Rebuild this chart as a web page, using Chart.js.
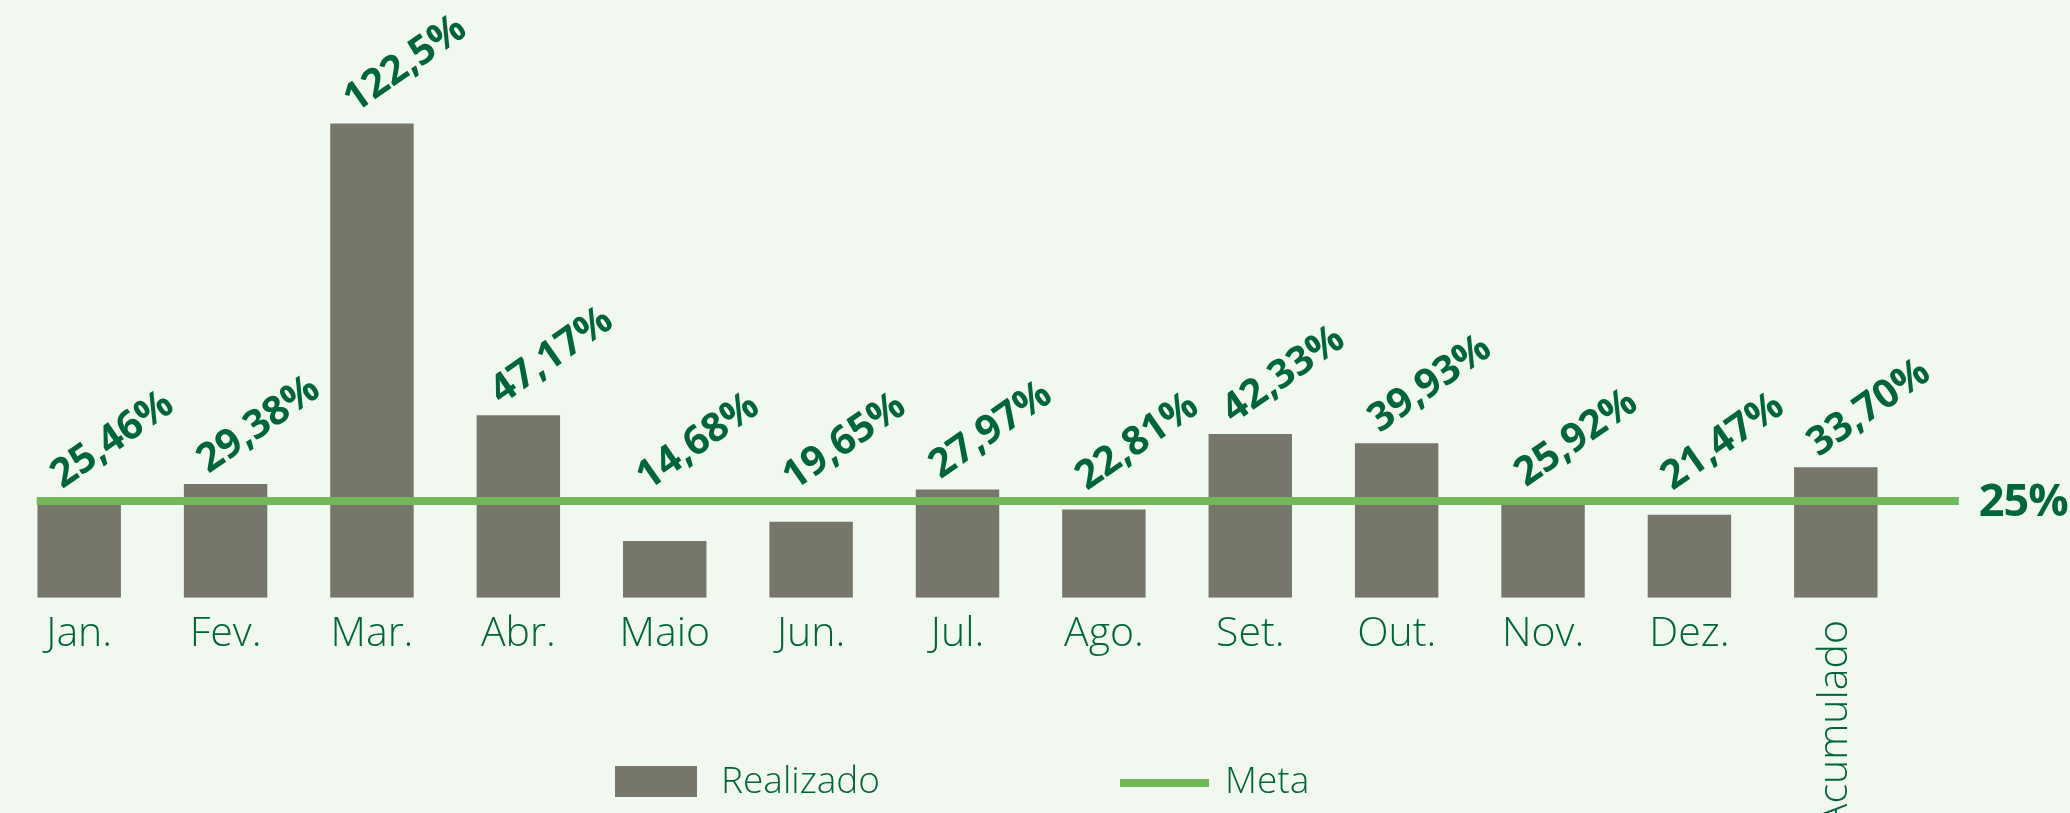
<!DOCTYPE html>
<html>
<head>
<meta charset="utf-8">
<script src="https://cdn.jsdelivr.net/npm/chart.js@4"></script>
<style>
  html, body { margin: 0; padding: 0; background: #f1f8f0; }
  #wrap { width: 2070px; height: 813px; }
</style>
</head>
<body>
<div id="wrap"><canvas id="metaChart"></canvas></div>
<script>
const categories = ["Jan.", "Fev.", "Mar.", "Abr.", "Maio", "Jun.", "Jul.", "Ago.", "Set.", "Out.", "Nov.", "Dez.", "Acumulado"];
const realizado = [25.46, 29.38, 122.5, 47.17, 14.68, 19.65, 27.97, 22.81, 42.33, 39.93, 25.92, 21.47, 33.70];
const valueLabels = ["25,46%", "29,38%", "122,5%", "47,17%", "14,68%", "19,65%", "27,97%", "22,81%", "42,33%", "39,93%", "25,92%", "21,47%", "33,70%"];
const meta = 25;
const metaLabel = "25%";
const legendLabels = ["Realizado", "Meta"];

const GREEN_TEXT = "#00663a";
const BAR = "#76776a";
const LINE = "#72b85a";
const FONT = '"Open Sans", "Noto Sans", sans-serif';

// meta line runs a bit past the first and last bars
const META_FROM = -0.29;
const META_TO = 12.84;

const annotations = {
    id: "annotations",
    afterDatasetsDraw(chart) {
        const ctx = chart.ctx;
        const x = chart.scales.x;
        const y = chart.scales.y;
        const x2 = chart.scales.x2;

        // value labels, rotated
        ctx.save();
        ctx.fillStyle = GREEN_TEXT;
        ctx.font = "700 40px " + FONT;
        ctx.textAlign = "left";
        ctx.textBaseline = "alphabetic";
        realizado.forEach((v, i) => {
            const px = x.getPixelForValue(i) - 17;
            const py = y.getPixelForValue(Math.max(v, meta)) - 10;
            ctx.save();
            ctx.translate(px, py);
            ctx.rotate(-35 * Math.PI / 180);
            ctx.fillText(valueLabels[i], 0, 0);
            ctx.restore();
        });

        // meta label at the end of the line
        ctx.font = "700 45px " + FONT;
        ctx.letterSpacing = "-1px";
        ctx.textBaseline = "middle";
        ctx.fillText(metaLabel, x2.getPixelForValue(META_TO) + 20, y.getPixelForValue(meta) + 2);
        ctx.letterSpacing = "0px";

        // last category written vertically
        ctx.font = "300 41px " + FONT;
        ctx.textAlign = "right";
        ctx.translate(x.getPixelForValue(12), 620);
        ctx.rotate(-Math.PI / 2);
        ctx.fillText(categories[12], 0, 0);
        ctx.restore();

        // legend
        ctx.save();
        ctx.fillStyle = BAR;
        ctx.fillRect(615, 766, 82, 31);
        ctx.strokeStyle = LINE;
        ctx.lineWidth = 8;
        ctx.beginPath();
        ctx.moveTo(1120, 783);
        ctx.lineTo(1209, 783);
        ctx.stroke();
        ctx.fillStyle = GREEN_TEXT;
        ctx.font = "300 37px " + FONT;
        ctx.textBaseline = "middle";
        ctx.textAlign = "left";
        ctx.fillText(legendLabels[0], 721, 782);
        ctx.fillText(legendLabels[1], 1225, 782);
        ctx.restore();
    }
};

new Chart(document.getElementById("metaChart"), {
    data: {
        labels: categories,
        datasets: [
            {
                type: "line",
                label: legendLabels[1],
                data: [{ x: META_FROM, y: meta }, { x: META_TO, y: meta }],
                xAxisID: "x2",
                borderColor: LINE,
                borderWidth: 8,
                pointRadius: 0,
                clip: false,
                order: 0,
            },
            {
                type: "bar",
                label: legendLabels[0],
                data: realizado,
                backgroundColor: BAR,
                barPercentage: 0.57,
                categoryPercentage: 1,
                grouped: false,
                order: 1,
            },
        ],
    },
    options: {
        responsive: true,
        maintainAspectRatio: false,
        animation: false,
        events: [],
        layout: {
            padding: { top: 17, left: 6, right: 161, bottom: 142 },
        },
        plugins: {
            legend: { display: false },
            tooltip: { enabled: false },
        },
        scales: {
            x: {
                type: "category",
                offset: true,
                grid: { display: false, drawTicks: false },
                border: { display: false },
                ticks: {
                    color: GREEN_TEXT,
                    font: { family: FONT, size: 41, weight: "300" },
                    padding: 12,
                    maxRotation: 0,
                    minRotation: 0,
                    autoSkip: false,
                    callback: (v, i) => (i === 12 ? "" : categories[i]),
                },
            },
            x2: {
                type: "linear",
                display: false,
                min: -0.5,
                max: 12.5,
            },
            y: {
                display: false,
                min: 0,
                max: 150,
            },
        },
    },
    plugins: [annotations],
});
</script>
</body>
</html>
